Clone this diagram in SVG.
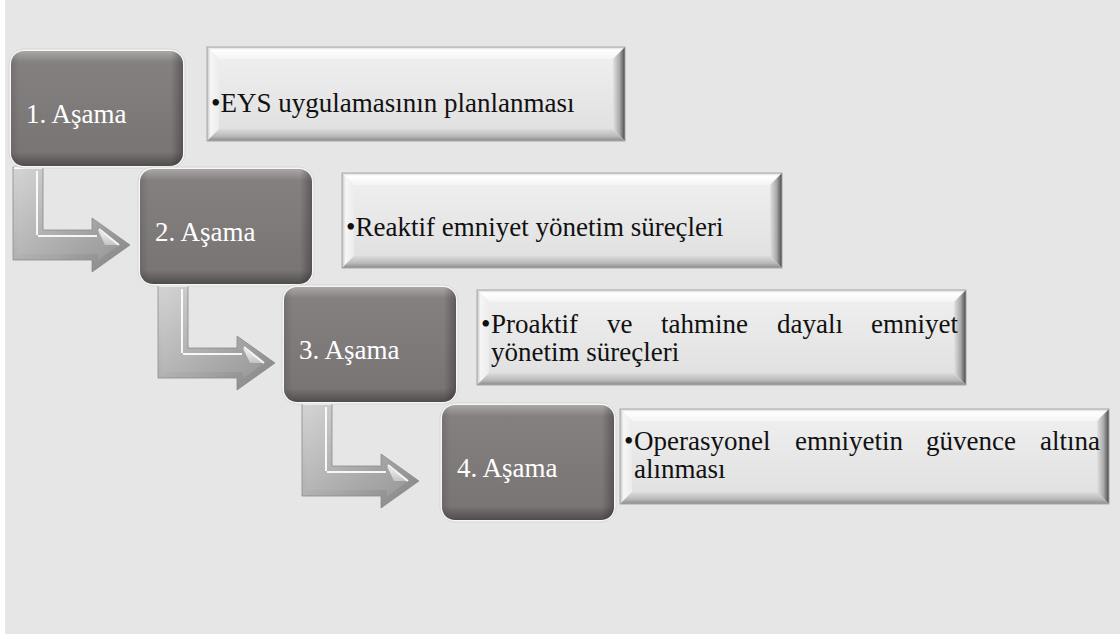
<svg xmlns="http://www.w3.org/2000/svg" width="1120" height="639" viewBox="0 0 1120 639">
  <defs>
    <style>
      .lbl { font-family: "Liberation Serif", "Times New Roman", serif; font-size: 27px; fill: #ffffff; }
      .txt { font-family: "Liberation Serif", "Times New Roman", serif; font-size: 27px; fill: #111111; }
      .rim { fill: #f6f6f6; stroke: #d0d0d0; stroke-width: 0.8; }
      .face { fill: url(#darkFace); }
      .bvTop { fill: url(#bvTopG); }
      .bvLeft { fill: url(#bvLeftG); }
      .bvRight { fill: url(#bvRightG); }
      .bvBottom { fill: url(#bvBottomG); }
      .bvFace { fill: url(#bvFaceG); }
      .bvEdge { fill: none; stroke: #a8a8a8; stroke-width: 1; }
      .arrOuter { fill: url(#arrOuterG); stroke: #8a8a8a; stroke-width: 0.8; }
      .arrInner { fill: url(#arrInnerG); }
      .arrHi { fill: none; stroke: #ffffff; stroke-width: 2; stroke-opacity: 0.9; }
    </style>

    <!-- dark step box shading -->
    <linearGradient id="darkFace" x1="0" y1="0" x2="0" y2="1">
      <stop offset="0" stop-color="#aaa6a6"/>
      <stop offset="0.1" stop-color="#858080"/>
      <stop offset="0.88" stop-color="#7a7575"/>
      <stop offset="1" stop-color="#514c4c"/>
    </linearGradient>
    <linearGradient id="darkSide" x1="0" y1="0" x2="1" y2="0">
      <stop offset="0" stop-color="#000" stop-opacity="0.12"/>
      <stop offset="0.05" stop-color="#000" stop-opacity="0"/>
      <stop offset="0.93" stop-color="#000" stop-opacity="0"/>
      <stop offset="1" stop-color="#000" stop-opacity="0.3"/>
    </linearGradient>

    <!-- bevelled text panel shading -->
    <linearGradient id="bvTopG" x1="0" y1="0" x2="0" y2="1">
      <stop offset="0" stop-color="#d6d6d6"/>
      <stop offset="0.25" stop-color="#ffffff"/>
      <stop offset="1" stop-color="#f4f4f4"/>
    </linearGradient>
    <linearGradient id="bvLeftG" x1="0" y1="0" x2="1" y2="0">
      <stop offset="0" stop-color="#c4c4c4"/>
      <stop offset="0.3" stop-color="#f6f6f6"/>
      <stop offset="1" stop-color="#ececec"/>
    </linearGradient>
    <linearGradient id="bvRightG" x1="0" y1="0" x2="1" y2="0">
      <stop offset="0" stop-color="#e2e2e2"/>
      <stop offset="0.55" stop-color="#a9a9a9"/>
      <stop offset="0.85" stop-color="#6a6a6a"/>
      <stop offset="1" stop-color="#3e3e3e"/>
    </linearGradient>
    <linearGradient id="bvBottomG" x1="0" y1="0" x2="0" y2="1">
      <stop offset="0" stop-color="#dcdcdc"/>
      <stop offset="0.6" stop-color="#b9b9b9"/>
      <stop offset="1" stop-color="#8a8a8a"/>
    </linearGradient>
    <linearGradient id="bvFaceG" x1="0" y1="0" x2="0" y2="1">
      <stop offset="0" stop-color="#eeeeee"/>
      <stop offset="1" stop-color="#e1e1e1"/>
    </linearGradient>

    <!-- bent arrow shading -->
    <linearGradient id="arrOuterG" x1="0" y1="0" x2="1" y2="1">
      <stop offset="0" stop-color="#d4d4d4"/>
      <stop offset="0.6" stop-color="#a6a6a6"/>
      <stop offset="1" stop-color="#828282"/>
    </linearGradient>
    <linearGradient id="arrInnerG" x1="0" y1="0" x2="1" y2="1">
      <stop offset="0" stop-color="#d2d2d2"/>
      <stop offset="0.5" stop-color="#b4b4b4"/>
      <stop offset="1" stop-color="#989898"/>
    </linearGradient>
    <linearGradient id="arrHead" x1="0" y1="0" x2="0" y2="1">
      <stop offset="0" stop-color="#f4f4f4"/>
      <stop offset="1" stop-color="#c4c4c4"/>
    </linearGradient>

    <!-- bent arrow, origin at the top-left of its vertical bar -->
    <g id="bentArrow">
      <path class="arrOuter" d="M0,0 H30 V63 H79 V51 L117,78 L79,105 V93 H0 Z"/>
      <path class="arrInner" d="M5,3 H24 V69 H85 V63 L106,78 L85,93 V87 H5 Z"/>
      <path d="M85,63 L106,78 L92,78 Z" fill="url(#arrHead)"/>
      <path class="arrHi" d="M24,4 V68"/>
      <path class="arrHi" d="M86,62 L106,78"/>
      <path class="arrHi" d="M25,69 H84" stroke-width="1.2"/>
      <path class="arrHi" d="M1,1 H29" stroke-width="1.2"/>
    </g>
  </defs>

  <!-- page background -->
  <rect x="0" y="0" width="1120" height="639" fill="#ffffff"/>
  <rect x="5" y="0" width="1115" height="634" fill="#e6e6e6"/>

  <!-- connectors -->
  <g id="connectors">
    <use href="#bentArrow" transform="translate(13,167)"/>
    <use href="#bentArrow" transform="translate(158,285)"/>
    <use href="#bentArrow" transform="translate(302,403)"/>
  </g>

  <!-- step 1 -->
  <g id="step1">
    <rect class="rim" x="9" y="49" width="176" height="119" rx="15"/>
    <rect class="face" x="11" y="51" width="172" height="115" rx="13"/>
    <rect x="11" y="51" width="172" height="115" rx="13" fill="url(#darkSide)"/>
    <text class="lbl" x="26" y="123">1. Aşama</text>
  </g>
  <g id="detail1">
    <polygon class="bvTop" points="207,47 625,47 613,59 219,59"/>
    <polygon class="bvLeft" points="207,47 219,59 219,129 207,141"/>
    <polygon class="bvRight" points="625,47 625,141 613,129 613,59"/>
    <polygon class="bvBottom" points="207,141 625,141 613,129 219,129"/>
    <rect class="bvFace" x="219" y="59" width="394" height="70"/>
    <rect class="bvEdge" x="207" y="47" width="418" height="94"/>
    <text class="txt" x="211" y="112">•EYS uygulamasının planlanması</text>
  </g>

  <!-- step 2 -->
  <g id="step2">
    <rect class="rim" x="138" y="167" width="176" height="119" rx="15"/>
    <rect class="face" x="140" y="169" width="172" height="115" rx="13"/>
    <rect x="140" y="169" width="172" height="115" rx="13" fill="url(#darkSide)"/>
    <text class="lbl" x="155" y="241">2. Aşama</text>
  </g>
  <g id="detail2">
    <polygon class="bvTop" points="342,173 782,173 770,185 354,185"/>
    <polygon class="bvLeft" points="342,173 354,185 354,256 342,268"/>
    <polygon class="bvRight" points="782,173 782,268 770,256 770,185"/>
    <polygon class="bvBottom" points="342,268 782,268 770,256 354,256"/>
    <rect class="bvFace" x="354" y="185" width="416" height="71"/>
    <rect class="bvEdge" x="342" y="173" width="440" height="95"/>
    <text class="txt" x="346" y="236">•Reaktif emniyet yönetim süreçleri</text>
  </g>

  <!-- step 3 -->
  <g id="step3">
    <rect class="rim" x="282" y="285" width="176" height="119" rx="15"/>
    <rect class="face" x="284" y="287" width="172" height="115" rx="13"/>
    <rect x="284" y="287" width="172" height="115" rx="13" fill="url(#darkSide)"/>
    <text class="lbl" x="299" y="359">3. Aşama</text>
  </g>
  <g id="detail3">
    <polygon class="bvTop" points="477,290 966,290 954,302 489,302"/>
    <polygon class="bvLeft" points="477,290 489,302 489,373 477,385"/>
    <polygon class="bvRight" points="966,290 966,385 954,373 954,302"/>
    <polygon class="bvBottom" points="477,385 966,385 954,373 489,373"/>
    <rect class="bvFace" x="489" y="302" width="465" height="71"/>
    <rect class="bvEdge" x="477" y="290" width="489" height="95"/>
    <text class="txt" x="481" y="333">•</text>
    <text class="txt" y="333"><tspan x="491">Proaktif</tspan><tspan x="607">ve</tspan><tspan x="661">tahmine</tspan><tspan x="777">dayalı</tspan></text>
    <text class="txt" x="958" y="333" text-anchor="end">emniyet</text>
    <text class="txt" x="491" y="361">yönetim süreçleri</text>
  </g>

  <!-- step 4 -->
  <g id="step4">
    <rect class="rim" x="440" y="403" width="176" height="119" rx="15"/>
    <rect class="face" x="442" y="405" width="172" height="115" rx="13"/>
    <rect x="442" y="405" width="172" height="115" rx="13" fill="url(#darkSide)"/>
    <text class="lbl" x="457" y="477">4. Aşama</text>
  </g>
  <g id="detail4">
    <polygon class="bvTop" points="620,409 1109,409 1097,421 632,421"/>
    <polygon class="bvLeft" points="620,409 632,421 632,492 620,504"/>
    <polygon class="bvRight" points="1109,409 1109,504 1097,492 1097,421"/>
    <polygon class="bvBottom" points="620,504 1109,504 1097,492 632,492"/>
    <rect class="bvFace" x="632" y="421" width="465" height="71"/>
    <rect class="bvEdge" x="620" y="409" width="489" height="95"/>
    <text class="txt" x="624" y="450">•</text>
    <text class="txt" y="450"><tspan x="634">Operasyonel</tspan><tspan x="795">emniyetin</tspan><tspan x="926">güvence</tspan></text>
    <text class="txt" x="1100" y="450" text-anchor="end">altına</text>
    <text class="txt" x="634" y="478">alınması</text>
  </g>
</svg>
